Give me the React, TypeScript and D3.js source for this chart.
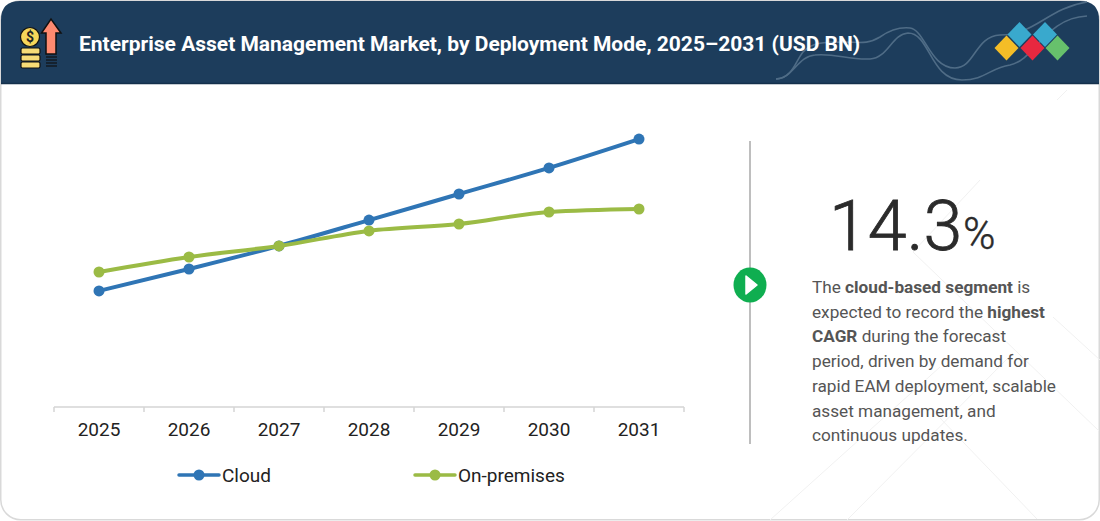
import React from "react";
import * as d3 from "d3";

const years = ["2025", "2026", "2027", "2028", "2029", "2030", "2031"];
const cloud = [3.87, 4.6, 5.37, 6.23, 7.1, 7.97, 8.93];
const onPremises = [4.5, 5.0, 5.37, 5.87, 6.1, 6.5, 6.6];
const title = "Enterprise Asset Management Market, by Deployment Mode, 2025–2031 (USD BN)";
const seriesNames = ["Cloud", "On-premises"];

const BLUE = "#2f75b5";
const GREEN = "#9bbb45";
const NAVY = "#1d3d5c";
const FONT = "Roboto, sans-serif";

const x = d3.scaleBand<string>().domain(years).range([54, 684]);
const y = d3.scaleLinear().domain([0, 10]).range([407, 107]);
const cx = (yr: string) => (x(yr) as number) + x.bandwidth() / 2;
const line = d3
  .line<number>()
  .x((_, i) => cx(years[i]))
  .y((d) => y(d))
  .curve(d3.curveMonotoneX);

const header = "M1 84 V20 Q1 1 20 1 H1080 Q1099 1 1099 20 V84 Z";
const wave1 = "M776 79 C792 79 795 62 803 52 C812 42 825 42 845 42 C865 43 870 43 880 37 C890 30 900 27 910 28 C925 30 930 68 955 68 C975 68 975 36 1000 35 C1035 35 1048 8 1087 2";
const wave2 = "M776 79 C792 79 798 56 815 55 C835 53 848 60 870 59 C888 58 892 34 908 33 C930 33 930 80 962 80 C985 80 990 68 1010 65 C1035 60 1045 18 1087 16";
const bgLines = [
  "M980 180 L913 252",
  "M913 252 L1099 431",
  "M770 520 L940 367",
  "M847 520 L1013 353",
  "M940 418 L1037 519",
  "M1053 317 L1100 360",
  "M1057 100 L1067 90",
];
const diamonds = [
  { cx: 1006.5, cy: 48, c: "#f4bd27" },
  { cx: 1019.5, cy: 34.5, c: "#39a9cd" },
  { cx: 1032.5, cy: 48, c: "#e8283f" },
  { cx: 1045, cy: 34.5, c: "#39a9cd" },
  { cx: 1057.5, cy: 48, c: "#67c16c" },
];

function Legend({ x0, color, label }: { x0: number; color: string; label: string }) {
  return (
    <g>
      <line x1={x0} x2={x0 + 40} y1={475} y2={475} stroke={color} strokeWidth={3.5} strokeLinecap="round" />
      <circle cx={x0 + 20} cy={475} r={5.5} fill={color} />
      <text x={x0 + 43} y={481.5} fontSize={19} fill="#222" fontFamily={FONT}>{label}</text>
    </g>
  );
}

export default function App() {
  const body: [string, boolean][][] = [
    [["The ", false], ["cloud-based segment", true], [" is", false]],
    [["expected to record the ", false], ["highest", true]],
    [["CAGR", true], [" during the forecast", false]],
    [["period, driven by demand for", false]],
    [["rapid EAM deployment, scalable", false]],
    [["asset management, and", false]],
    [["continuous updates.", false]],
  ];
  return (
    <svg width={1100} height={521} style={{ position: "absolute", left: 0, top: 0 }}>
      <rect x={0.75} y={0.75} width={1098.5} height={519} rx={20} fill="#fff" stroke="#d9d9d9" strokeWidth={1.5} />
      {bgLines.map((d, i) => <path key={i} d={d} stroke="#f1f1f1" fill="none" />)}
      <path d={header} fill={NAVY} />
      <line x1={1} x2={1099} y1={83.5} y2={83.5} stroke="#14304b" strokeWidth={1.5} />
      <path d={wave1} fill="none" stroke="#4f6c86" strokeWidth={1.6} />
      <path d={wave2} fill="none" stroke="#4f6c86" strokeWidth={1.6} />
      {diamonds.map((d, i) => (
        <path key={i} d={`M${d.cx - 12} ${d.cy} L${d.cx} ${d.cy - 12.5} L${d.cx + 12} ${d.cy} L${d.cx} ${d.cy + 12.5} Z`} fill={d.c} />
      ))}
      {/* icon */}
      <g stroke="#111" strokeWidth={1.2}>
        <path d="M46 54 V33 H41.500 L51 19 L61 33 H56 V54 Z" fill="#ff8a70" strokeWidth={1.5} />
        <circle cx={30} cy={37} r={9.5} fill="#f7d75a" />
        {[48, 55, 62].map((v) => <rect key={v} x={21} y={v} width={19} height={6} rx={1.5} fill="#f7dc77" />)}
        {[57, 60, 63, 66].map((v) => <line key={v} x1={46} x2={57} y1={v} y2={v} />)}
      </g>
      <text x={30} y={42} textAnchor="middle" fontSize={14} fontWeight={700} fill="#222" fontFamily={FONT}>$</text>
      <text x={79} y={51} fontSize={21} fontWeight={700} fill="#fff" fontFamily={FONT}>{title}</text>

      {/* axis */}
      <line x1={54} x2={684} y1={407} y2={407} stroke="#d4d4d4" strokeWidth={1.5} />
      {[...years.map((yr) => x(yr) as number), 684].map((v) => (
        <line key={v} x1={v} x2={v} y1={407} y2={412} stroke="#d4d4d4" strokeWidth={1.5} />
      ))}
      {years.map((yr) => (
        <text key={yr} x={cx(yr)} y={436} textAnchor="middle" fontSize={19} fill="#222" fontFamily={FONT}>{yr}</text>
      ))}

      {/* series */}
      <path d={line(cloud) as string} fill="none" stroke={BLUE} strokeWidth={4} strokeLinecap="round" />
      {cloud.map((v, i) => <circle key={i} cx={cx(years[i])} cy={y(v)} r={5.5} fill={BLUE} />)}
      <path d={line(onPremises) as string} fill="none" stroke={GREEN} strokeWidth={4} strokeLinecap="round" />
      {onPremises.map((v, i) => <circle key={i} cx={cx(years[i])} cy={y(v)} r={5.5} fill={GREEN} />)}

      <Legend x0={179} color={BLUE} label={seriesNames[0]} />
      <Legend x0={415} color={GREEN} label={seriesNames[1]} />

      {/* right panel */}
      <line x1={750} x2={750} y1={141} y2={444} stroke="#a8a8a8" strokeWidth={1.5} />
      <ellipse cx={750} cy={285} rx={16.5} ry={17.5} fill="#0fae50" />
      <path d="M746 276 L757 285 L746 294 Z" fill="#fff" stroke="#fff" strokeWidth={1.5} strokeLinejoin="round" />
      <text x={829} y={250} fontSize={70} fontWeight={300} stroke="#2b2b2b" strokeWidth={0.8} fill="#2b2b2b" fontFamily={FONT}>14.3</text>
      <text x={963} y={249} fontSize={44} fontWeight={300} stroke="#2b2b2b" strokeWidth={0.4} fill="#2b2b2b" fontFamily={FONT}>%</text>
      {body.map((ln, i) => (
        <text key={i} x={812} y={293 + i * 24.7} fontSize={17.2} fill="#555" fontFamily={FONT}>
          {ln.map(([t, b], j) => (
            <tspan key={j} fontWeight={b ? 700 : 400} xmlSpace="preserve">{t}</tspan>
          ))}
        </text>
      ))}
    </svg>
  );
}
